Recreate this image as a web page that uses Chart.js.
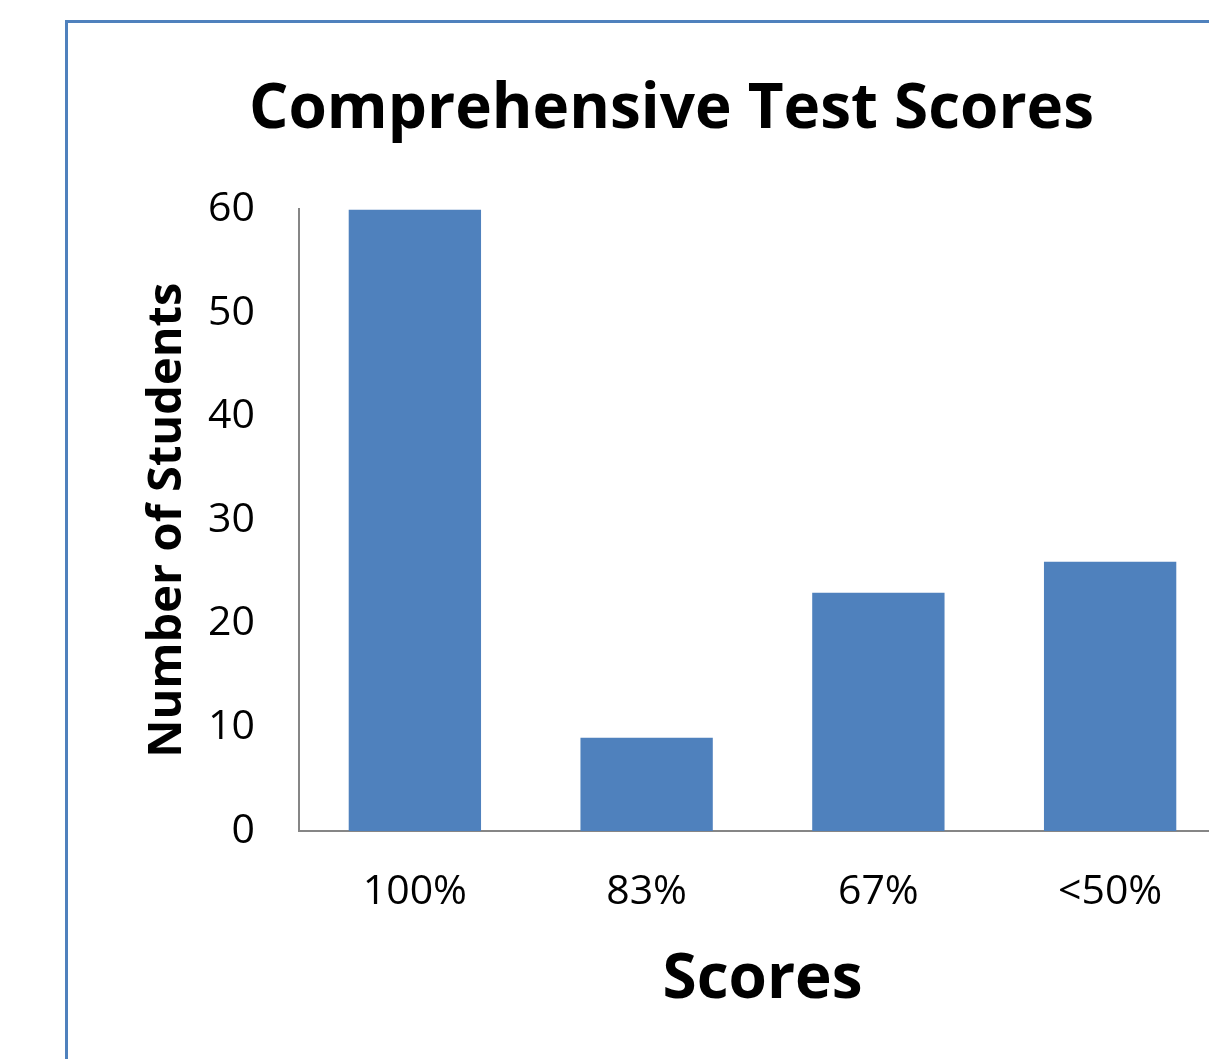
<!DOCTYPE html>
<html>
<head>
<meta charset="utf-8">
<script src="https://cdn.jsdelivr.net/npm/chart.js@4/dist/chart.umd.min.js"></script>
<style>
  html, body { margin: 0; padding: 0; background: #ffffff; overflow: hidden; width: 1209px; height: 1059px; }
  #frame { position: absolute; left: 65px; top: 20px; width: 1207px; height: 1100px; border: 3px solid #4f81bd; background: #fff; }
  #wrap { position: absolute; left: 0; top: 0; width: 1207px; height: 1100px; }
</style>
</head>
<body>
<div id="frame"><div id="wrap"><canvas id="c" width="1207" height="1100"></canvas></div></div>
<script>
const categories = ['100%', '83%', '67%', '<50%'];
const students = [60, 9, 23, 26];
const yTicks = [0, 10, 20, 30, 40, 50, 60];
const chartTitle = 'Comprehensive Test Scores';
const xTitle = 'Scores';
const yTitle = 'Number of Students';

const FONT = "'Open Sans', 'Liberation Sans', sans-serif";

function build() {
  new Chart(document.getElementById('c'), {
    type: 'bar',
    data: {
      labels: categories,
      datasets: [{
        data: students,
        backgroundColor: '#4f81bd',
        borderWidth: 0,
        categoryPercentage: 1.0,
        barPercentage: 0.571
      }]
    },
    options: {
      responsive: false,
      animation: false,
      layout: { padding: 0 },
      plugins: {
        legend: { display: false },
        tooltip: { enabled: false },
        title: {
          display: true,
          text: chartTitle,
          color: '#000',
          font: { family: FONT, size: 62, weight: 'bold', lineHeight: 1.2 },
          padding: { top: 50, bottom: 62 }
        }
      },
      scales: {
        x: {
          grid: { display: false, drawTicks: false },
          border: { display: true, color: '#868686', width: 2 },
          ticks: { color: '#000', font: { family: FONT, size: 41 }, padding: 37 },
          title: {
            display: true, text: xTitle, color: '#000',
            font: { family: FONT, size: 62, weight: 'bold', lineHeight: 1.2 },
            padding: { top: 0, bottom: 105 }
          },
          afterFit(s) { s.height = 292; }
        },
        y: {
          min: 0, max: 60,
          afterBuildTicks(s) { s.ticks = yTicks.map(v => ({ value: v })); },
          grid: { display: false, drawTicks: false },
          border: { display: true, color: '#868686', width: 2 },
          ticks: { color: '#000', font: { family: FONT, size: 41 }, padding: 44 },
          title: {
            display: true, text: yTitle, color: '#000',
            font: { family: FONT, size: 47, weight: 'bold', lineHeight: 1.2 },
            padding: { top: 71, bottom: 0 }
          },
          afterFit(s) { s.width = 231; }
        },
        y2: {
          position: 'right',
          display: true,
          grid: { display: false, drawTicks: false },
          border: { display: false },
          ticks: { display: false },
          afterFit(s) { s.width = 49; }
        }
      }
    }
  });
}

if (document.fonts && document.fonts.load) {
  Promise.all([
    document.fonts.load("bold 62px 'Open Sans'"),
    document.fonts.load("41px 'Open Sans'")
  ]).then(build, build);
} else {
  build();
}
</script>
</body>
</html>
